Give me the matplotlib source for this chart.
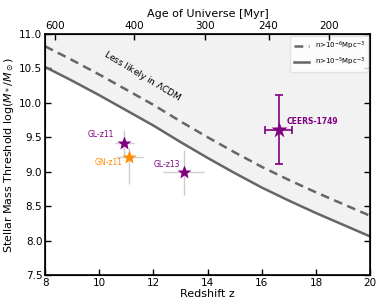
import numpy as np
import matplotlib
matplotlib.use("Agg")
import matplotlib.pyplot as plt

# threshold curves
z_curve = [8, 9, 10, 11, 12, 13, 14, 15, 16, 17, 18, 19, 20]
mass_1e5 = [10.52, 10.32, 10.11, 9.89, 9.67, 9.43, 9.20, 8.98, 8.77, 8.58, 8.40, 8.23, 8.06]
mass_1e6 = [10.82, 10.62, 10.41, 10.19, 9.97, 9.73, 9.50, 9.28, 9.07, 8.88, 8.70, 8.53, 8.36]

# candidate galaxies
names = ["GL-z11", "GN-z11", "GL-z13"]
gal_z = [10.93, 11.11, 13.11]
gal_m = [9.41, 9.22, 9.00]
gal_zerr = [0.35, 0.5, 0.74]
gal_merr_lo = [0.2, 0.4, 0.34]
gal_merr_hi = [0.2, 0.12, 0.32]
gal_colors = ["purple", "darkorange", "purple"]

ceers_z, ceers_m = 16.62, 9.61
ceers_zerr, ceers_merr = 0.5, 0.5

# top axis: age of universe
age_labels = ["600", "400", "300", "240", "200"]
age_tick_z = [8.37, 11.30, 13.89, 16.25, 18.49]

line_col = "#666666"

fig = plt.figure(figsize=(3.82, 3.08), dpi=100)
ax = fig.add_axes([0.118, 0.107, 0.851, 0.783])

ax.fill_between(z_curve, mass_1e5, 11.0, color="#f2f2f2", zorder=0)
ax.plot(z_curve, mass_1e6, "--", color=line_col, lw=1.8, dashes=(3.5, 2.2),
        label=r"n>10$^{-6}$Mpc$^{-3}$")
ax.plot(z_curve, mass_1e5, "-", color=line_col, lw=1.8,
        label=r"n>10$^{-5}$Mpc$^{-3}$")

for i in range(len(names)):
    ax.errorbar(gal_z[i], gal_m[i], xerr=gal_zerr[i],
                yerr=[[gal_merr_lo[i]], [gal_merr_hi[i]]],
                fmt="none", ecolor="#cccccc", elinewidth=1.0, zorder=2)
for i in range(len(names)):
    ax.plot(gal_z[i], gal_m[i], marker="*", color=gal_colors[i], ms=10,
            mec="none", zorder=4)

ax.errorbar(ceers_z, ceers_m, xerr=ceers_zerr, yerr=ceers_merr, fmt="none",
            ecolor="purple", elinewidth=1.2, capsize=3, capthick=1.2, zorder=3)
ax.plot(ceers_z, ceers_m, marker="*", color="purple", ms=12, mec="none", zorder=4)

ax.text(10.55, 9.47, "GL-z11", color="purple", fontsize=5.5, ha="right", va="bottom")
ax.text(10.85, 9.13, "GN-z11", color="darkorange", fontsize=5.5, ha="right", va="center")
ax.text(13.0, 9.1, "GL-z13", color="purple", fontsize=5.5, ha="right", va="center")
ax.text(16.9, 9.73, "CEERS-1749", color="purple", fontsize=5.5, ha="left",
        va="center", fontweight="bold")
ax.text(11.58, 10.39, r"Less likely in $\Lambda$CDM", fontsize=6.5, rotation=-31,
        ha="center", va="center", rotation_mode="anchor")

ax.set_xlim(8, 20)
ax.set_ylim(7.5, 11.0)
ax.set_xticks(np.arange(8, 21, 2))
ax.set_yticks(np.arange(7.5, 11.01, 0.5))
ax.set_xlabel("Redshift z", fontsize=8, labelpad=1)
ax.set_ylabel(r"Stellar Mass Threshold log($M_*/M_\odot$)", fontsize=8, labelpad=2)
ax.tick_params(direction="in", labelsize=7.5, length=4, width=1, pad=2,
               right=True)
for s in ax.spines.values():
    s.set_linewidth(1.2)

top = ax.twiny()
top.set_xlim(ax.get_xlim())
top.set_xticks(age_tick_z)
top.set_xticklabels(age_labels)
top.tick_params(direction="in", labelsize=7.5, length=4, width=1, pad=2)
top.set_xlabel("Age of Universe [Myr]", fontsize=8, labelpad=3)

leg = ax.legend(loc="upper right", fontsize=5, handlelength=2.2, frameon=True,
                borderpad=0.5, labelspacing=0.6, handletextpad=0.8,
                borderaxespad=0.3)
leg.get_frame().set_edgecolor("#dddddd")

fig.savefig("out.png", dpi=100)
